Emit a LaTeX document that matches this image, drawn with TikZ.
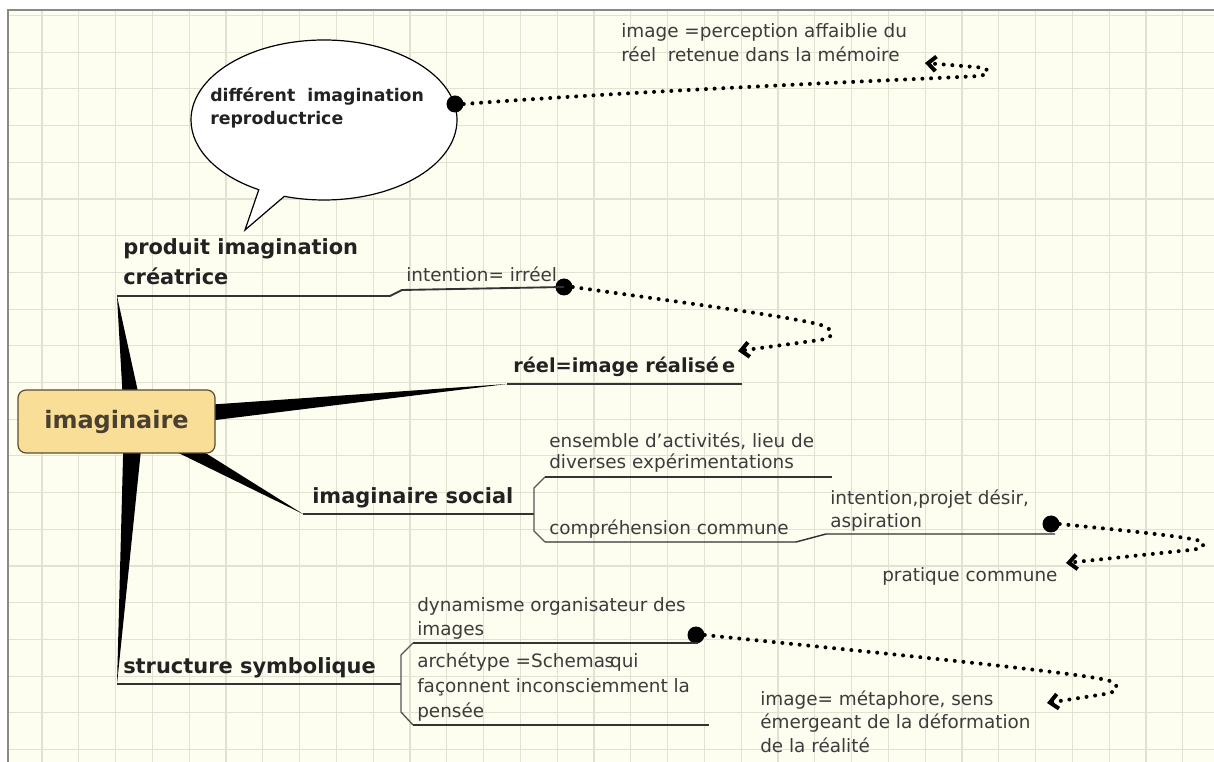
\documentclass[tikz,border=0pt]{standalone}
\usepackage{fontspec}
\setmainfont{DejaVu Sans}
\usetikzlibrary{arrows.meta,calc,shapes.callouts}
\definecolor{cfond}{HTML}{FDFDF0}
\definecolor{cgrille}{HTML}{E2E2D2}
\definecolor{cbord}{HTML}{8A8A80}
\definecolor{ctexte}{HTML}{3C3C3C}
\definecolor{ctitre}{HTML}{222222}
\definecolor{cnoeud}{HTML}{F9DE98}
\definecolor{cnoeudb}{HTML}{5C4B2E}
\definecolor{cnoeudt}{HTML}{4A4030}
\definecolor{ctrait}{HTML}{333333}
\definecolor{cgris}{HTML}{555555}
\tikzset{
  centre/.style={rectangle, rounded corners=6pt, draw=cnoeudb, line width=0.9pt,
    fill=cnoeud, minimum width=147.75pt, minimum height=47.25pt, text=cnoeudt,
    font=\bfseries\fontsize{18}{22}\selectfont},
  titre/.style={anchor=base west, inner sep=0pt, align=left, text=ctitre,
    font=\bfseries\fontsize{15.7}{22.5}\selectfont},
  texte/.style={anchor=base west, inner sep=0pt, align=left, text=ctexte,
    font=\fontsize{13.8}{17.4}\selectfont},
  bulle/.style={ellipse callout, draw=black, line width=0.9pt, fill=white,
    minimum width=199.5pt, minimum height=120pt, inner sep=0pt, callout pointer arc=12},
  trait/.style={draw=ctrait, line width=1.4pt},
  traitf/.style={draw=ctrait, line width=1.1pt},
  accolade/.style={draw=cgris, line width=1pt},
  point/.style={circle, fill=black, minimum size=12.75pt, inner sep=0pt},
  pointille/.style={line width=3pt, line cap=round, dash pattern=on 0pt off 6.5pt,
    -{Straight Barb[length=6pt,width=11pt,line width=3pt]}},
  grille/.style={draw=cgrille, line width=0.8pt},
}
\newcommand{\rayon}[1]{\fill[black] ($(o)!7.5pt!90:(#1)$) -- (#1) -- ($(o)!7.5pt!-90:(#1)$) -- cycle;}

\begin{document}
\begin{tikzpicture}[x=0.75pt,y=-0.75pt]
  \useasboundingbox (0,0) rectangle (1214,762);
  % fond quadrille
  \fill[white] (0,0) rectangle (1214,762);
  \fill[cfond] (8,10) rectangle (1214,762);
  \foreach \gx in {0,...,31} \draw[grille] ({42+36.8*\gx},10) -- ({42+36.8*\gx},762);
  \foreach \gy in {0,...,20} \draw[grille] (8,{15.5+36.7*\gy}) -- (1214,{15.5+36.7*\gy});
  \draw[cbord, line width=1.2pt] (8,762) -- (8,10) -- (1214,10);

  % branches principales
  \coordinate (o) at (134,420);
  \coordinate (bprod) at (117,296);
  \coordinate (breel) at (507,384);
  \coordinate (bsoc) at (303,514);
  \coordinate (bstr) at (117,684);
  \rayon{bprod} \rayon{breel} \rayon{bsoc} \rayon{bstr}
  \node[centre] (imag) at (116.5,421.5) {imaginaire};

  % bulle
  \node[bulle, callout absolute pointer={(245,230)}] (bul) at (324,120) {};
  \node[texte, text=ctitre, font=\bfseries\fontsize{13}{17.25}\selectfont] (diff) at (210,125)
    {différent\ \ imagination\\reproductrice};
  \node[point] (pt1) at (455,104) {};
  \node[texte, font=\fontsize{13.8}{18}\selectfont] (perc) at (621,62)
    {image =perception affaiblie du\\réel\ \ retenue dans la mémoire};
  \coordinate (fl1) at (925,63);

  % produit imagination creatrice
  \node[titre] (prod) at (123,285) {produit imagination\\créatrice};
  \node[texte] (inten) at (406,282) {intention= irréel};
  \node[point] (pt2) at (564,287) {};
  \draw[trait] (bprod) -- (390,296) -- (402,290) -- (pt2.center);
  \coordinate (fl2) at (738,351);

  % reel
  \node[titre, font=\bfseries\fontsize{14.5}{20}\selectfont] (reel) at (513,373)
    {réel=image réalisé\hspace{2.5pt}e};
  \draw[trait] (breel) -- (742,384);

  % imaginaire social
  \node[titre] (soc) at (312,504) {imaginaire social};
  \draw[trait] (bsoc) -- (534,514);
  \draw[accolade] (545,477) -- (534,488) -- (534,531) -- (545,542);
  \node[texte, font=\fontsize{13.8}{16.2}\selectfont] (ens) at (549,469)
    {ensemble d'activités, lieu de\\diverses expérimentations};
  \draw[traitf] (545,477) -- (832,477);
  \node[texte] (comp) at (549,535) {compréhension commune};
  \node[texte] (proj) at (830,528) {intention,projet désir,\\aspiration};
  \node[point] (pt4) at (1051,524) {};
  \draw[traitf] (545,542) -- (796,542) -- (826,534) -- (1055,534);
  \node[texte] (prat) at (882,582) {pratique commune};
  \coordinate (fl4) at (1066,563);

  % structure symbolique
  \node[titre] (str) at (123,673) {structure symbolique};
  \draw[trait] (bstr) -- (401,684);
  \draw[accolade] (413,643) -- (401,655) -- (401,712) -- (413,725);
  \node[texte] (dyn) at (417,635) {dynamisme organisateur des\\images};
  \node[point] (pt3) at (696,635) {};
  \draw[traitf] (413,643) -- (698,643);
  \node[texte, font=\fontsize{13.8}{18.4}\selectfont] (arch) at (417,717)
    {archétype =Schema\kern-0.5pt s\kern-3pt qui\\façonnent inconsciemment la\\pensée};
  \draw[traitf] (413,725) -- (709,725);
  \node[texte, font=\fontsize{13.8}{17.6}\selectfont] (meta) at (760,752)
    {image= métaphore, sens\\émergeant de la déformation\\de la réalité};
  \coordinate (fl3) at (1047,703);

  % liens pointilles
  \draw[pointille] (pt1.east) .. controls (650,90) and (900,80) .. (980,76)
    .. controls (992,73) and (990,68) .. (975,67) -- (fl1);
  \draw[pointille] (pt2.east) .. controls (700,305) and (815,320) .. (826,327)
    .. controls (836,333) and (832,338) .. (820,340) -- (fl2);
  \draw[pointille] (pt4.east) .. controls (1120,530) and (1190,537) .. (1200,541)
    .. controls (1208,545) and (1202,549) .. (1190,550) -- (fl4);
  \draw[pointille] (pt3.east) .. controls (900,655) and (1090,674) .. (1110,681)
    .. controls (1121,686) and (1118,692) .. (1105,694) -- (fl3);
\end{tikzpicture}
\end{document}
